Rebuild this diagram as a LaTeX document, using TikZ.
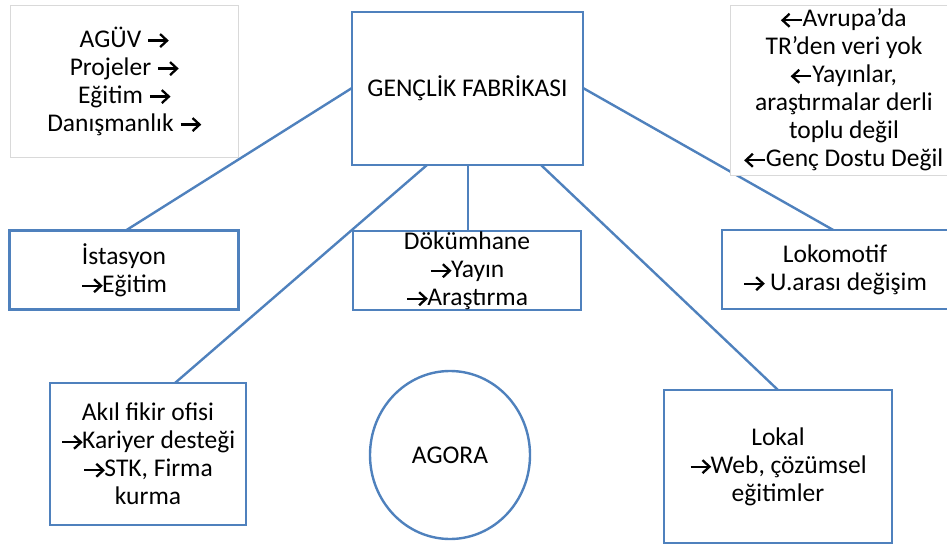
\documentclass[tikz,border=0pt]{standalone}
\usepackage{fontspec}
\setmainfont{Carlito}
\usetikzlibrary{shapes.geometric}
\definecolor{linkblue}{HTML}{4F81BD}
\definecolor{notegrey}{HTML}{D9D9D9}
% inline open-headed arrows used inside the labels
\tikzset{glyph/.style={x=1pt,y=1pt,baseline=-6.5pt,line width=2.3pt,draw=black,line join=miter}}
\newcommand{\ra}{\tikz[glyph]{\draw (0,0) -- (19,0); \draw (12,6.5) -- (19,0) -- (12,-6.5);}}
\newcommand{\la}{\tikz[glyph]{\draw (19,0) -- (0,0); \draw (7,6.5) -- (0,0) -- (7,-6.5);}}
\tikzset{
  txt/.style={font=\fontsize{25.5}{28}\selectfont, align=center, text=black},
  unit/.style={draw=linkblue, line width=2.4pt, fill=white, txt},
  note/.style={draw=notegrey, line width=0.6pt, fill=white, txt},
  link/.style={draw=linkblue, line width=2.4pt}
}
\begin{document}
\begin{tikzpicture}[x=1pt,y=-1pt]
\useasboundingbox (0,0) rectangle (947,545);

% connectors first, boxes drawn over them
\coordinate (cL) at (352,88);
\coordinate (cR) at (583,88);
\coordinate (cB1) at (427,165);
\coordinate (cB2) at (468,165);
\coordinate (cB3) at (541,165);
\coordinate (iT) at (125,231);
\coordinate (lT) at (835,231);
\coordinate (aT) at (175,383);
\coordinate (dT) at (468,231);
\coordinate (kT) at (778,390);
\draw[link] (cL) -- (iT);
\draw[link] (cR) -- (lT);
\draw[link] (cB1) -- (aT);
\draw[link] (cB2) -- (dT);
\draw[link] (cB3) -- (kT);

% side notes
\node[note, minimum width=228pt, minimum height=152pt] (left) at (124,81)
  {AGÜV \ra\\Projeler \ra\\Eğitim \ra\\Danışmanlık \ra};
\node[note, minimum width=228pt, minimum height=170pt, inner sep=0pt] (right) at (844,90)
  {\la Avrupa’da\\TR’den veri yok\\\la Yayınlar,\\araştırmalar derli\\toplu değil\\\la Genç Dostu Değil};

% main unit
\node[unit, minimum width=231pt, minimum height=153pt] (main) at (467.5,88.5) {GENÇLİK FABRİKASI};

% second row
\node[unit, minimum width=229pt, minimum height=79pt] (ist) at (124,270) {İstasyon\\\ra Eğitim};
\node[unit, minimum width=228pt, minimum height=79pt, inner sep=0pt] (dok) at (467,270.5) {Dökümhane\\\ra Yayın\\\ra Araştırma};
\node[unit, minimum width=226pt, minimum height=79pt] (lok) at (835,269.5) {Lokomotif\\\ra\ U.arası değişim};

% third row
\node[unit, minimum width=196pt, minimum height=142pt] (akil) at (148,454)
  {Akıl fikir ofisi\\\ra Kariyer desteği\\\ra STK, Firma\\kurma};
\node[draw=linkblue, line width=2.4pt, ellipse, minimum width=160pt, minimum height=168pt, txt] (agora) at (450,455) {AGORA};
\node[unit, minimum width=228pt, minimum height=153pt] (lokal) at (778,466.5)
  {Lokal\\\ra Web, çözümsel\\eğitimler};
\end{tikzpicture}
\end{document}
